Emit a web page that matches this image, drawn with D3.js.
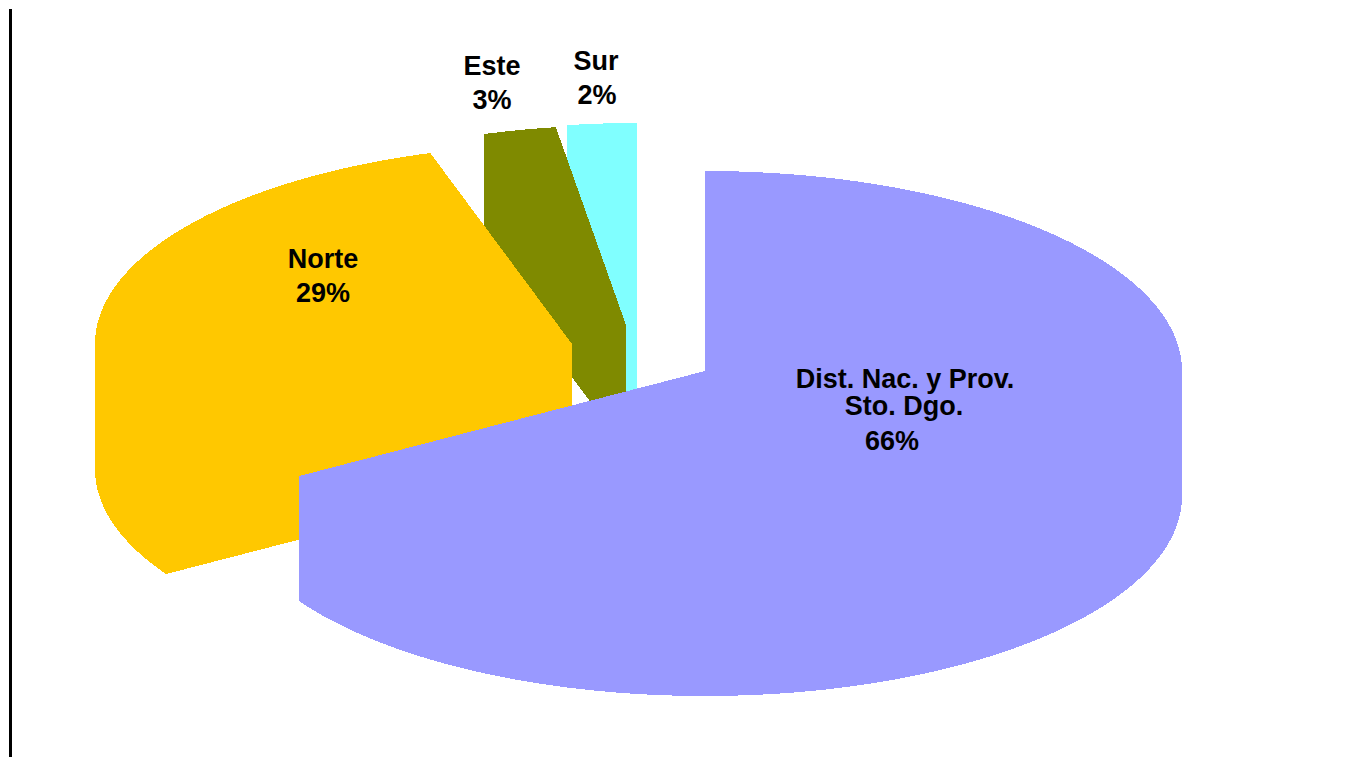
<!DOCTYPE html>
<html>
<head>
<meta charset="utf-8">
<title>Pie</title>
<script src="https://cdnjs.cloudflare.com/ajax/libs/d3/7.8.5/d3.min.js"></script>
<style>
  html, body { margin: 0; padding: 0; background: #fff; overflow: hidden; }
  svg { display: block; }
  text { font-family: "Liberation Sans", Arial, sans-serif; font-weight: bold; font-size: 27px; fill: #000; text-anchor: middle; }
</style>
</head>
<body>
<svg id="chart" width="1347" height="757"></svg>
<script>
// Datos (proporciones estimadas de la forma de cada sector)
const regions = ['Dist. Nac. y Prov. Sto. Dgo.', 'Norte', 'Este', 'Sur'];
const shares = [66.2, 29.0, 2.45, 2.35];

// Colores y posiciones (sector separado = centro propio)
const colors = ['#9999FF', '#FFC800', '#7F8A00', '#80FFFF'];
const centers = [[705, 371], [572, 344], [626, 325], [637, 323]];
const labelLines = [
    [['Dist. Nac. y Prov.', 905, 388], ['Sto. Dgo.', 904, 415], ['66%', 892, 450]],
    [['Norte', 323, 268], ['29%', 323, 302]],
    [['Este', 492, 75], ['3%', 492, 109]],
    [['Sur', 596, 70], ['2%', 597, 104]]
];

const rx = 477, ry = 200, depth = 125;
const svg = d3.select('#chart');

// linea vertical izquierda
svg.append('rect').attr('x', 9).attr('y', 9).attr('width', 3).attr('height', 748).attr('fill', '#000');

const slices = d3.pie().sort(null).value(d => d)(shares);
const line = d3.line();

// todos los poligonos con la misma orientacion para que nonzero haga la union
function outline(points) {
    const pts = d3.polygonArea(points) < 0 ? points.slice().reverse() : points;
    return line(pts) + 'Z';
}

function slicePath(s, i) {
    const [cx, cy] = centers[i];
    const xScale = d3.scaleLinear().domain([-1, 1]).range([cx - rx, cx + rx]);
    const yScale = d3.scaleLinear().domain([-1, 1]).range([cy - ry, cy + ry]);
    const nSteps = Math.ceil((s.endAngle - s.startAngle) * 90);
    const angles = d3.range(nSteps + 1).map(k => s.startAngle + (s.endAngle - s.startAngle) * k / nSteps);
    const rim = angles.map(a => [xScale(Math.sin(a)), yScale(-Math.cos(a))]);
    const down = p => [p[0], p[1] + depth];
    const apex = [cx, cy];
    const parts = [
        [apex].concat(rim),
        [down(apex)].concat(rim.map(down)),
        [apex, rim[0], down(rim[0]), down(apex)],
        [apex, rim[nSteps], down(rim[nSteps]), down(apex)]
    ];
    // pared exterior por tramos
    d3.pairs(rim).forEach(([a, b]) => parts.push([a, b, down(b), down(a)]));
    return parts.map(outline).join('');
}

// de atras hacia delante
[3, 2, 1, 0].forEach(i => {
    svg.append('path')
        .attr('class', 'slice')
        .attr('data-region', regions[i])
        .attr('d', slicePath(slices[i], i))
        .attr('fill', colors[i])
        .attr('shape-rendering', 'crispEdges');
});

labelLines.forEach(lines => {
    lines.forEach(([txt, x, y]) => {
        svg.append('text').attr('x', x).attr('y', y).text(txt);
    });
});
</script>
</body>
</html>
